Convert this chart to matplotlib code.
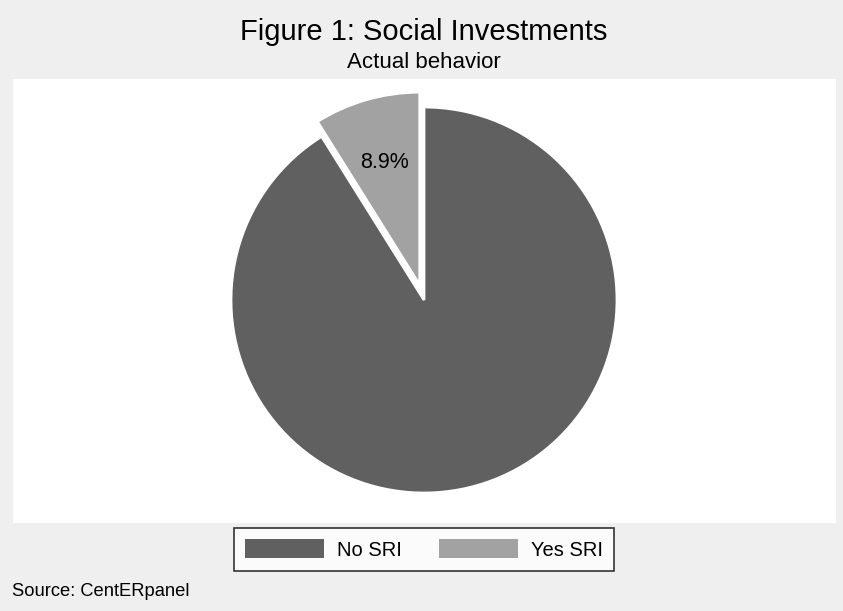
import matplotlib.pyplot as plt
from matplotlib.patches import Patch

plt.rcParams["font.family"] = ["Liberation Sans", "DejaVu Sans"]

# data
labels = ["No SRI", "Yes SRI"]
shares = [91.1, 8.9]
colors = ["#606060", "#a2a2a2"]
explode = [0.0, 0.08]

title = "Figure 1: Social Investments"
subtitle = "Actual behavior"
note = "Source: CentERpanel"

W, H = 843, 611
fig = plt.figure(figsize=(W / 100, H / 100), dpi=100, facecolor="#efefef")

# white plot region (pixel box 13..836 x 79..523)
ax = fig.add_axes([13 / W, (H - 523) / H, (836 - 13) / W, (523 - 79) / H])

wedges, texts, autotexts = ax.pie(
    shares,
    colors=colors,
    explode=explode,
    startangle=90,
    counterclock=False,
    radius=1.0,
    autopct=lambda p: f"{p:.1f}%" if p < 50 else "",
    pctdistance=0.66,
    wedgeprops=dict(edgecolor="white", linewidth=2),
    textprops=dict(fontsize=15.5, color="black"),
)

# pie centre at (424, 300) px, radius 193 px
r_px = 193.0
cx, cy = 424.0, 300.0
ax.set_aspect("auto")
ax.set_xlim((13 - cx) / r_px, (836 - cx) / r_px)
ax.set_ylim((cy - 523) / r_px, (cy - 79) / r_px)
ax.set_frame_on(True)
ax.patch.set_facecolor("white")
for s in ax.spines.values():
    s.set_visible(False)
ax.set_xticks([])
ax.set_yticks([])

fig.text(424 / W, 1 - 32 / H, title, ha="center", va="center", fontsize=21)
fig.text(424 / W, 1 - 62 / H, subtitle, ha="center", va="center", fontsize=16)
fig.text(12 / W, 1 - 591 / H, note, ha="left", va="center", fontsize=13.2)

handles = [Patch(facecolor=c, edgecolor="none") for c in colors]
leg = fig.legend(
    handles,
    labels,
    ncol=2,
    loc="center",
    bbox_to_anchor=(424 / W, 1 - 549.5 / H),
    fontsize=14.5,
    frameon=True,
    fancybox=False,
    edgecolor="black",
    handlelength=3.9,
    handleheight=1.05,
    handletextpad=0.65,
    columnspacing=1.85,
    borderpad=0.55,
)
leg.get_frame().set_facecolor("white")
leg.get_frame().set_linewidth(1.2)

fig.savefig("out.png", dpi=100, facecolor=fig.get_facecolor())
